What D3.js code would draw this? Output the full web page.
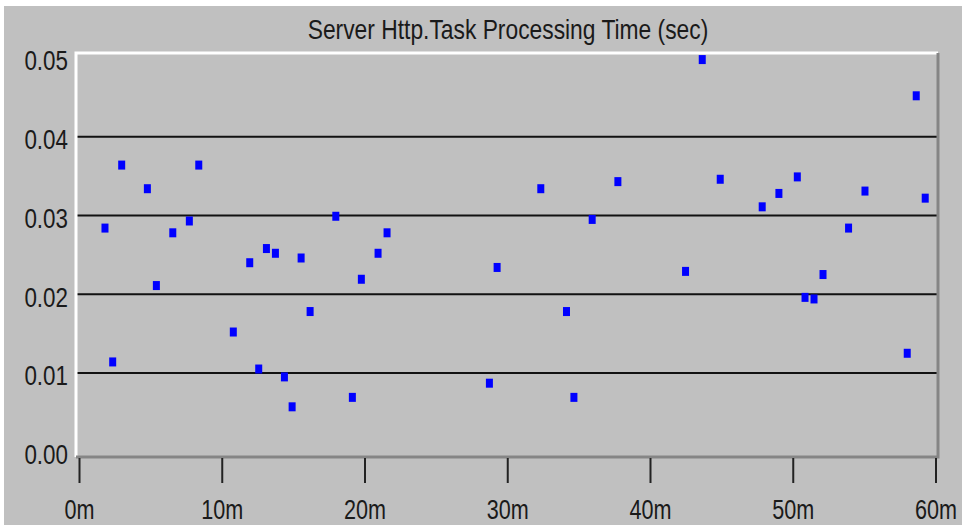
<!DOCTYPE html>
<html>
<head>
<meta charset="utf-8">
<script src="https://cdn.jsdelivr.net/npm/d3@7"></script>
<style>
  body { margin: 0; background: #fff; }
  text { font-family: "Liberation Sans", Arial, sans-serif; fill: #1a1a1a; }
</style>
</head>
<body>
<div id="chart"></div>
<script>
// DATA
var title = 'Server Http.Task Processing Time (sec)';
var minutes = [1.82, 2.36, 2.99, 4.79, 5.42, 6.57, 7.73, 8.39, 10.81, 11.96,
	12.59, 13.13, 13.76, 14.39, 14.93, 15.56, 16.19, 17.99, 19.15, 19.78,
	20.95, 21.58, 28.75, 29.29, 32.35, 34.15, 34.67, 35.95, 37.75, 42.49,
	43.66, 44.92, 47.86, 49.03, 50.32, 50.86, 51.49, 52.12, 53.91, 55.06,
	58.02, 58.65, 59.28];
var seconds = [0.0284, 0.0114, 0.0364, 0.0334, 0.0211, 0.0278, 0.0293, 0.0364, 0.0152, 0.0240,
	0.0105, 0.0258, 0.0252, 0.0095, 0.0057, 0.0246, 0.0178, 0.0299, 0.0069, 0.0219,
	0.0252, 0.0278, 0.0087, 0.0234, 0.0334, 0.0178, 0.0069, 0.0295, 0.0343, 0.0229,
	0.0498, 0.0346, 0.0311, 0.0328, 0.0349, 0.0196, 0.0194, 0.0225, 0.0284, 0.0331,
	0.0125, 0.0452, 0.0322];
var xTicks = [0, 10, 20, 30, 40, 50, 60];
var yTicks = [0, 0.01, 0.02, 0.03, 0.04, 0.05];

// BOUNDS
var width = 962, height = 527;
var frame = {left: 76, top: 53, right: 938, bottom: 457};

// SCALE
var xScale = d3.scaleLinear().domain([0, 60]).range([79, 935.5]);
var yScale = d3.scaleLinear().domain([0, 0.05]).range([451.7, 58]);

var svg = d3.select('#chart')
	.append('svg')
	.attr('width', width)
	.attr('height', height);

// grey panel
svg.append('rect')
	.attr('x', 4).attr('y', 6)
	.attr('width', width - 4).attr('height', height - 8)
	.attr('fill', '#c0c0c0');

// title (original font is a narrow one, so squeeze it)
svg.append('text')
	.attr('transform', 'translate(508,39) scale(0.815,1)')
	.attr('text-anchor', 'middle')
	.style('font-size', '28px')
	.text(title);

// grid lines (0.01 .. 0.04)
svg.append('g')
	.selectAll('line')
	.data(yTicks.filter(function(d) { return d > 0 && d < 0.05; }))
	.enter().append('line')
	.attr('x1', frame.left + 1).attr('x2', frame.right - 1)
	.attr('y1', function(d) { return yScale(d); })
	.attr('y2', function(d) { return yScale(d); })
	.attr('stroke', '#111')
	.attr('stroke-width', 2);

// 3d frame: light top/left, dark bottom/right
svg.append('path')
	.attr('d', 'M' + frame.left + ',' + frame.bottom + 'V' + frame.top + 'H' + frame.right)
	.attr('fill', 'none').attr('stroke', '#fff').attr('stroke-width', 3);
svg.append('path')
	.attr('d', 'M' + frame.left + ',' + frame.bottom + 'H' + frame.right + 'V' + frame.top)
	.attr('fill', 'none').attr('stroke', '#858585').attr('stroke-width', 3);

// Y axis labels
var yAxis = d3.axisLeft(yScale)
	.tickValues(yTicks)
	.tickFormat(d3.format('.2f'))
	.tickSize(0)
	.tickPadding(0);
var yG = svg.append('g')
	.attr('transform', 'translate(68,3)')
	.call(yAxis);
yG.select('.domain').remove();
yG.selectAll('text')
	.style('font-size', '28px')
	.attr('fill', '#1a1a1a')
	.attr('transform', 'scale(0.8,1)');

// X axis
var xAxis = d3.axisBottom(xScale)
	.tickValues(xTicks)
	.tickFormat(function(d) { return d + 'm'; })
	.tickSize(25)
	.tickPadding(17);
var xG = svg.append('g')
	.attr('transform', 'translate(0,' + (frame.bottom + 1) + ')')
	.call(xAxis);
xG.select('.domain').remove();
xG.selectAll('line').attr('stroke', '#222').attr('stroke-width', 2);
xG.selectAll('text')
	.style('font-size', '27px')
	.attr('fill', '#1a1a1a')
	.attr('transform', 'scale(0.8,1)');

// points
svg.append('g')
	.selectAll('rect')
	.data(minutes)
	.enter().append('rect')
	.attr('x', function(d) { return xScale(d) - 3.5; })
	.attr('y', function(d, i) { return yScale(seconds[i]) - 4.5; })
	.attr('width', 7)
	.attr('height', 9)
	.attr('fill', '#0000ff');
</script>
</body>
</html>
